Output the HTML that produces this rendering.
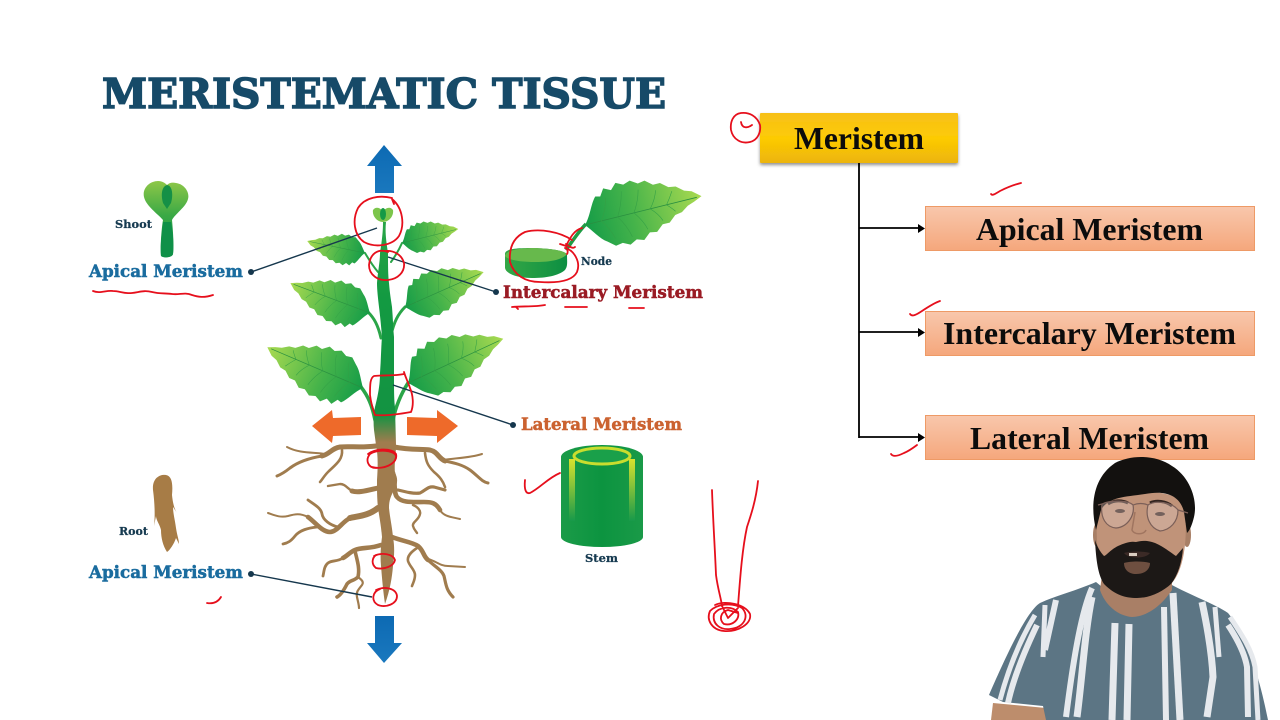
<!DOCTYPE html>
<html><head><meta charset="utf-8"><style>
html,body{margin:0;padding:0;background:#fff;width:1280px;height:720px;overflow:hidden}
svg{display:block}
text{font-family:"Liberation Serif",serif;font-weight:bold}
.slab{font-family:"DejaVu Serif","Liberation Serif",serif}
.lab{font-size:16.5px;stroke-width:.5px}
.sm{font-size:11px;fill:#163a50;stroke:#163a50;stroke-width:.25px}
.box{font-size:32px;fill:#0c0c0c;text-anchor:start}
.r{fill:none;stroke:#e60f1c;stroke-width:1.8;stroke-linecap:round;stroke-linejoin:round}
.rt{fill:none;stroke:#a07c4e;stroke-linecap:round;stroke-linejoin:round}
.st{fill:none;stroke:#e6e9ed;stroke-linecap:butt;stroke-linejoin:round}
</style></head><body>
<svg width="1280" height="720" viewBox="0 0 1280 720" xmlns="http://www.w3.org/2000/svg">
<defs>
<linearGradient id="lg" x1="0" y1="0" x2="1" y2="0"><stop offset="0" stop-color="#159c48"/><stop offset=".4" stop-color="#45b34a"/><stop offset="1" stop-color="#a9da50"/></linearGradient>
<linearGradient id="trunk" x1="0" y1="220" x2="0" y2="610" gradientUnits="userSpaceOnUse"><stop offset="0" stop-color="#2aa548"/><stop offset=".2" stop-color="#139a42"/><stop offset=".5" stop-color="#139342"/><stop offset=".57" stop-color="#a07c4e"/><stop offset="1" stop-color="#a07c4e"/></linearGradient>
<linearGradient id="blue" x1="0" y1="0" x2="0" y2="1"><stop offset="0" stop-color="#0d6ab3"/><stop offset="1" stop-color="#1a78be"/></linearGradient>
<linearGradient id="yb" x1="0" y1="0" x2="0" y2="1"><stop offset="0" stop-color="#f7c018"/><stop offset=".5" stop-color="#fdcb05"/><stop offset="1" stop-color="#ecb408"/></linearGradient>
<linearGradient id="ob" x1="0" y1="0" x2="0" y2="1"><stop offset="0" stop-color="#f8c7ac"/><stop offset="1" stop-color="#f5a77c"/></linearGradient>
<linearGradient id="shoot" x1="0" y1="0" x2="0" y2="1"><stop offset="0" stop-color="#8ec748"/><stop offset=".45" stop-color="#3aa945"/><stop offset="1" stop-color="#0e9248"/></linearGradient>
<linearGradient id="yel" x1="0" y1="0" x2="0" y2="1"><stop offset="0" stop-color="#d8e22e"/><stop offset="1" stop-color="#17994a" /></linearGradient>
<linearGradient id="cyl" x1="0" y1="0" x2="1" y2="0"><stop offset="0" stop-color="#1b9b48"/><stop offset=".5" stop-color="#0c9440"/><stop offset="1" stop-color="#1a9a48"/></linearGradient>
<linearGradient id="stump" x1="0" y1="0" x2="1" y2="0"><stop offset="0" stop-color="#34a746"/><stop offset="1" stop-color="#0c8f42"/></linearGradient>
<filter id="sh" x="-5%" y="-10%" width="110%" height="130%"><feDropShadow dx="0" dy="2" stdDeviation="1.5" flood-color="#444" flood-opacity=".6"/></filter>
<g id="leaf">
<path fill="url(#lg)" d="M0,0 C6,-6 9,-16 14,-21 L18,-20 L22,-26 L28,-23 L33,-28 L39,-25 L45,-27 L51,-23 L57,-24 L63,-19 L69,-19 L75,-14 L81,-13 L87,-8 L93,-6 L100,0 L93,3 L87,5 L81,9 L75,10 L69,15 L63,15 L57,20 L51,19 L45,24 L39,22 L33,25 L27,22 L21,23 L15,18 C9,14 5,6 0,0Z"/>
<path fill="none" stroke="#2a8f40" stroke-width=".7" d="M0,0 L96,0"/>
<path fill="none" stroke="#34a046" stroke-width=".5" d="M14,0 Q20,-8 22,-18 M28,0 Q34,-10 36,-20 M42,0 Q48,-9 50,-18 M56,0 Q62,-7 64,-14 M70,0 Q74,-5 77,-10 M14,0 Q20,8 22,17 M28,0 Q34,9 36,19 M42,0 Q48,8 50,16 M56,0 Q62,6 64,12 M70,0 Q74,4 76,7"/>
</g>
</defs>
<rect width="1280" height="720" fill="#fff"/>

<!-- Title -->
<text class="slab" x="102" y="108" font-size="41" textLength="564" lengthAdjust="spacingAndGlyphs" fill="#164a68" stroke="#164a68" stroke-width="1.5">MERISTEMATIC TISSUE</text>

<!-- Blue arrows -->
<path fill="url(#blue)" d="M384,145 L402,166 L394,166 L394,193 L375,193 L375,166 L367,166Z"/>
<path fill="url(#blue)" d="M375,616 L394,616 L394,643 L402,643 L384,663 L367,643 L375,643Z"/>
<!-- Orange arrows -->
<path fill="#ee6a2a" d="M312,426 L332,410 L333,418 L361,417 L361,435 L333,436 L332,443Z"/>
<path fill="#ee6a2a" d="M458,426 L437,410 L437,418 L407,417 L407,435 L437,436 L437,443Z"/>

<!-- Branches -->
<g fill="none" stroke="#2aa548" stroke-linecap="round">
<path d="M378,272 C372,265 368,258 365,253" stroke-width="2"/>
<path d="M391,262 C396,255 399,250 402,243" stroke-width="2"/>
<path d="M381,338 C378,325 374,318 368,312" stroke-width="3"/>
<path d="M391,335 C394,322 398,314 405,307" stroke-width="3"/>
<path d="M375,420 C372,405 368,396 361,387" stroke-width="3.5"/>
<path d="M393,420 C396,405 401,394 408,383" stroke-width="3.5"/>
</g>
<!-- Leaves -->
<use href="#leaf" transform="translate(365,253) rotate(191.7) scale(.59)"/>
<use href="#leaf" transform="translate(402,243) rotate(-14) scale(.58)"/>
<use href="#leaf" transform="translate(370,313) rotate(200.6) scale(.85)"/>
<use href="#leaf" transform="translate(405,307) rotate(-23.9) scale(.86)"/>
<use href="#leaf" transform="translate(363,388) rotate(203.1) scale(1.04)"/>
<use href="#leaf" transform="translate(408,383) rotate(-24.9) scale(1.05)"/>

<!-- Roots -->
<g class="rt">
<path stroke-width="5" d="M376,446 C360,448 350,446 340,447 C332,448 330,454 322,456"/>
<path stroke-width="3" d="M322,456 C310,458 298,462 290,468 C285,472 282,474 277,476"/>
<path stroke-width="2" d="M325,454 C315,452 300,454 287,447"/>
<path stroke-width="2.6" d="M342,450 C343,460 335,465 328,472 C324,476 322,480 320,482"/>
<path stroke-width="5" d="M394,447 C410,450 420,449 430,450 C438,452 438,458 445,461"/>
<path stroke-width="3" d="M445,461 C455,463 463,465 470,470 C478,476 482,482 488,483"/>
<path stroke-width="2" d="M443,460 C455,458 470,458 482,454"/>
<path stroke-width="2.6" d="M425,453 C426,462 428,466 434,472 C440,477 443,481 445,487"/>
<path stroke-width="5" d="M378,488 C365,491 358,493 352,491"/>
<path stroke-width="2.4" d="M352,491 C347,488 345,484 340,484 L328,486"/>
<path stroke-width="6" d="M378,508 C368,516 358,516 350,518"/>
<path stroke-width="4.6" d="M350,518 C342,522 337,532 330,532 C322,532 315,522 308,517"/>
<path stroke-width="2" d="M308,517 C300,513 295,514 288,516 C280,518 274,515 268,513"/>
<path stroke-width="2.8" d="M338,527 C330,525 323,520 322,514 C321,508 315,505 308,500"/>
<path stroke-width="2.8" d="M317,527 C308,528 300,530 295,536 C291,541 288,543 283,544"/>
<path stroke-width="4.6" d="M393,473 C396,482 393,492 397,497 C402,503 412,502 424,502 C432,502 436,503 440,510"/>
<path stroke-width="2" d="M440,510 C444,517 452,517 460,519"/>
<path stroke-width="3.2" d="M398,490 C406,492 414,494 420,493 C426,490 428,486 434,487 L445,490"/>
<path stroke-width="2.4" d="M413,505 C418,507 421,511 420,514 C419,520 412,522 413,526 C414,530 416,531 417,533"/>
<path stroke-width="4.6" d="M381,545 C370,549 362,547 355,550 C350,552 347,556 343,558"/>
<path stroke-width="2.8" d="M343,558 C337,562 332,560 328,563 C324,566 324,572 323,576"/>
<path stroke-width="3.6" d="M355,551 C357,560 360,568 358,577 C354,581 350,580 347,584 C344,590 341,595 337,597"/>
<path stroke-width="2.2" d="M358,577 C362,580 364,582 362,585 C358,590 356,592 357,597 C358,602 359,605 359,608"/>
<path stroke-width="4.6" d="M392,537 C402,541 412,542 418,546 C424,551 423,556 428,560"/>
<path stroke-width="3.2" d="M428,560 C434,566 442,570 444,576 C446,584 446,590 453,597"/>
<path stroke-width="2" d="M428,559 C436,561 440,566 448,566 L465,567"/>
<path stroke-width="2.6" d="M417,548 C411,552 407,556 408,561 C410,567 415,570 415,575 C415,580 413,583 412,586"/>
</g>
<!-- Trunk -->
<path fill="url(#trunk)" d="M383,222 L386,222 C385,232 386,240 388,253 C388,265 388,275 389,283 C390,295 391,300 392,307 C393,318 393,328 394,337 C394,350 394,362 394,373 C394,390 394,400 395,407 L396,445 C396,455 394,465 395,473 C398,478 398,484 394,490 C391,496 389,500 389,508 C390,518 392,526 393,537 C395,548 394,558 393,566 C392,578 390,590 385,604 C383,590 382,578 381,566 C380,555 381,545 382,537 C381,525 379,515 378,508 C377,498 377,490 377,480 C378,465 378,455 376,445 L374,430 C373,420 374,412 375,407 C378,395 380,385 380,373 C381,360 381,348 382,337 C381,325 380,315 379,307 C378,298 377,290 377,283 C378,270 380,262 380,253 C382,240 383,232 383,222Z"/>
<!-- Bud -->
<path fill="#7cc54b" d="M383,222 C377,222 372,216 373,210 C376,206 380,208 383,211 C386,208 390,206 393,210 C394,216 389,222 383,222Z"/>
<ellipse cx="383" cy="214" rx="3" ry="6" fill="#159a46"/>

<!-- Leader lines -->
<g stroke="#15374d" stroke-width="1.4" fill="#15374d">
<line x1="251" y1="272" x2="377" y2="228"/><circle cx="251" cy="272" r="3" stroke="none"/>
<line x1="496" y1="292" x2="388" y2="257"/><circle cx="496" cy="292" r="3" stroke="none"/>
<line x1="513" y1="425" x2="393" y2="385"/><circle cx="513" cy="425" r="3" stroke="none"/>
<line x1="251" y1="574" x2="372" y2="597"/><circle cx="251" cy="574" r="3" stroke="none"/>
</g>

<!-- Shoot icon -->
<path fill="url(#shoot)" d="M161,256 C160,245 162,225 163,220 C158,214 146,206 144,197 C142,188 150,181 158,181 C163,181 166,184 167,185 C169,183 172,182 176,183 C184,184 190,192 188,199 C186,207 175,214 172,220 C173,230 174,245 173,254 C172,258 163,258 161,256Z"/>
<path fill="#159046" d="M167,185 C173,186 173,196 171,203 L167,209 L163,203 C161,196 161,187 167,185Z"/>
<path fill="#0f9048" d="M161,256 C160,245 162,232 163,222 L171,222 C173,232 174,245 173,254 C172,258 163,258 161,256Z"/>
<!-- Root icon -->
<path fill="#a77c46" d="M153,490 C152,478 160,474 166,475 C172,476 173,484 172,495 C173,505 175,510 177,513 L173,507 C173,513 175,520 176,528 C177,535 179,540 179,544 L176,538 C174,544 170,550 167,552 C163,546 161,538 161,530 C160,525 156,520 156,516 L154,526 C155,518 155,505 153,490Z"/>

<!-- Node leaf + stump -->
<path fill="none" stroke="#1f9c44" stroke-width="3.5" d="M566,250 C572,242 578,232 586,224"/>
<use href="#leaf" transform="translate(585,225) rotate(-13.9) scale(1.2)"/>
<path fill="url(#stump)" d="M505,254 C505,248 520,248 536,248 C552,249 562,250 567,254 C567,262 568,266 565,270 C558,276 546,278 532,278 C518,278 506,274 505,268Z"/>
<path fill="#67b94c" d="M505,256 C506,250 520,248 536,248 C552,249 562,250 567,254 C562,260 550,262 536,262 C520,262 508,260 505,256Z"/>

<!-- Stem cylinder -->
<path fill="url(#cyl)" d="M561,457 A41,12 0 0 1 643,457 L643,537 A41,10 0 0 1 561,537Z"/>
<ellipse cx="602" cy="456" rx="28" ry="8" fill="#1aa04a" stroke="#c9dd2e" stroke-width="3"/>
<rect x="569" y="459" width="6" height="62" fill="url(#yel)"/>
<rect x="629" y="459" width="6" height="62" fill="url(#yel)"/>

<!-- Left labels -->
<text class="lab slab" x="89" y="277" textLength="154" lengthAdjust="spacingAndGlyphs" fill="#1a6c9f" stroke="#1a6c9f">Apical Meristem</text>
<text class="lab slab" x="89" y="578" textLength="154" lengthAdjust="spacingAndGlyphs" fill="#1a6c9f" stroke="#1a6c9f">Apical Meristem</text>
<text class="lab slab" x="503" y="298" textLength="200" lengthAdjust="spacingAndGlyphs" fill="#9a1b24" stroke="#9a1b24">Intercalary Meristem</text>
<text class="lab slab" x="521" y="430" textLength="161" lengthAdjust="spacingAndGlyphs" fill="#cb6230" stroke="#cb6230">Lateral Meristem</text>
<text class="sm slab" x="115" y="228" textLength="37" lengthAdjust="spacingAndGlyphs">Shoot</text>
<text class="sm slab" x="119" y="535" textLength="29" lengthAdjust="spacingAndGlyphs">Root</text>
<text class="sm slab" x="581" y="265" textLength="31" lengthAdjust="spacingAndGlyphs">Node</text>
<text class="sm slab" x="585" y="562" textLength="33" lengthAdjust="spacingAndGlyphs">Stem</text>

<!-- Right flowchart -->
<rect x="760" y="113" width="198" height="50" fill="url(#yb)" filter="url(#sh)" rx="1"/>
<text class="box" x="794" y="149" textLength="130" lengthAdjust="spacingAndGlyphs" font-size="31">Meristem</text>
<path d="M859,163 V438 M859,228 H918 M859,332 H918 M859,437 H918" stroke="#000" stroke-width="1.8" fill="none"/>
<path d="M918,224 L925,228.500 L918,233Z M918,328 L925,332.500 L918,337Z M918,433 L925,437.500 L918,442Z" fill="#000"/>
<g fill="url(#ob)" stroke="#ee9a66" stroke-width="1">
<rect x="925.500" y="206.500" width="329" height="44"/>
<rect x="925.500" y="311.500" width="329" height="44"/>
<rect x="925.500" y="415.500" width="329" height="44"/>
</g>
<text class="box" x="976" y="240" textLength="227" lengthAdjust="spacingAndGlyphs">Apical Meristem</text>
<text class="box" x="943" y="344" textLength="293" lengthAdjust="spacingAndGlyphs">Intercalary Meristem</text>
<text class="box" x="970" y="449" textLength="239" lengthAdjust="spacingAndGlyphs">Lateral Meristem</text>

<!-- Red annotations -->
<g class="r">
<path d="M392,198 C380,195 365,197 358,208 C352,220 354,235 364,242 C375,248 392,246 399,236 C405,225 403,208 392,199 L394,204"/>
<path d="M388,252 C378,248 370,254 369,265 C369,275 378,281 388,280 C398,279 405,272 404,263 C402,255 394,250 385,251"/>
<path d="M404,374 C395,376 382,375 374,376 C370,378 370,385 370,395 C371,403 373,410 375,415 C385,416 400,414 411,412 C414,405 413,395 410,388 C408,382 405,376 404,372"/>
<path d="M368,454 C376,448 392,448 396,454 C398,462 388,468 376,468 C368,468 365,460 370,454 C378,449 394,450 396,456 C396,464 384,470 372,467"/>
<path d="M374,556 C382,552 393,554 395,560 C394,566 384,570 376,568 C371,564 372,558 376,555"/>
<path d="M376,590 C384,586 396,588 397,596 C397,604 386,608 378,605 C371,601 372,592 380,589"/>
<path d="M572,240 C560,232 540,228 525,232 C512,238 509,250 510,262 C514,275 525,282 540,282 C555,283 572,282 577,272 C581,262 574,250 565,248"/>
<path d="M582,228 C574,230 570,238 566,246 L560,244 M566,246 C568,250 568,253 567,254 M566,244 C570,247 573,249 575,247"/>
<path d="M93,291 C100,294 106,290 113,291 C120,291 124,294 132,293 C140,292 144,290 152,292 C160,294 165,293 172,294 C180,295 184,292 192,295 C198,297 204,298 213,295"/>
<path d="M512,307 C522,306 535,307 545,305 M516,307 L518,309 M565,307 L587,307 M629,308 L644,308"/>
<path d="M207,603 C213,604 218,602 221,597"/>
<path d="M525,480 C524,490 526,494 530,493 C540,488 548,478 560,473"/>
<path d="M712,490 C713,520 715,550 716,575 C718,590 721,598 722,606"/>
<path d="M758,481 C756,500 751,515 747,527 C742,550 740,580 738,606"/>
<path d="M715,605 C725,600 745,604 750,614 C752,624 738,632 724,631 C712,630 706,620 710,611 C717,604 732,602 742,608 C750,616 744,628 730,629 C720,630 712,624 714,614 C720,606 732,606 738,612 C740,620 732,626 724,624 C719,620 720,612 728,610 L738,613 M722,606 L728,618 L738,608"/>
<path d="M741,113 C733,114 730,122 731,130 C733,140 742,144 750,142 C758,140 761,132 760,125 C757,116 749,112 741,113"/>
<path d="M741,122 C742,129 748,128 752,125"/>
<path d="M991,194 C992,196 995,194 1000,191 C1006,188 1013,185 1021,183"/>
<path d="M910,314 C912,317 916,315 922,311 C928,307 934,303 940,301"/>
<path d="M891,454 C893,457 898,456 904,453 C909,451 913,448 917,445"/>
</g>

<!-- Person -->
<g>
<path fill="#bd8d6c" d="M993,703 L1046,708 L1046,720 L991,720Z"/>
<path fill="#5c7584" d="M1096,582 C1078,590 1055,596 1040,603 C1025,612 1000,670 989,695 L1003,702 L1043,706 L1046,720 L1268,720 C1262,690 1250,640 1228,613 C1215,604 1190,595 1170,584 L1130,610Z"/>
<path fill="#a97f66" d="M1102,575 L1172,575 L1172,590 C1165,600 1152,616 1132,617 C1118,616 1105,605 1100,590Z"/>
<g class="st">
<path stroke-width="7" d="M1115,623 L1112,720 M1129,624 L1127,720"/>
<path stroke-width="6" d="M1164,607 L1166,720"/>
<path stroke-width="7" d="M1173,593 L1180,720"/>
<path stroke-width="6" d="M1092,588 C1080,615 1072,670 1066,717"/>
<path stroke-width="7" d="M1092,597 C1085,630 1082,680 1077,717"/>
<path stroke-width="6" d="M1056,600 L1045,650"/>
<path stroke-width="5" d="M1045,605 L1043,657"/>
<path stroke-width="5" d="M1035,615 C1020,640 1008,670 1000,700"/>
<path stroke-width="6" d="M1037,625 C1025,650 1013,680 1008,703"/>
<path stroke-width="7" d="M1202,602 C1208,630 1212,655 1213,677 L1207,717"/>
<path stroke-width="5" d="M1215,607 L1219,657"/>
<path stroke-width="5" d="M1230,617 C1242,635 1252,650 1255,667 L1258,720"/>
<path stroke-width="6" d="M1228,625 C1238,640 1245,655 1247,667 L1248,717"/>
</g>
<!-- ears/face -->
<ellipse cx="1097" cy="535" rx="4" ry="12" fill="#a87f66"/>
<ellipse cx="1187" cy="535" rx="4" ry="12" fill="#a87f66"/>
<path fill="#c09379" d="M1098,505 C1105,490 1175,485 1184,505 C1188,530 1186,570 1170,585 L1105,585 C1097,565 1095,530 1098,505Z"/>
<!-- beard -->
<path fill="#1c1816" d="M1095,540 C1096,560 1098,575 1104,584 C1115,595 1125,598 1137,598 C1150,598 1162,592 1171,584 C1178,575 1182,562 1183,548 L1176,556 C1170,552 1160,544 1152,542 C1145,540 1140,541 1136,542 C1130,541 1125,543 1118,546 C1110,550 1106,556 1104,556 C1100,552 1097,546 1095,540Z"/>
<path fill="#6e4f40" d="M1124,563 C1130,561 1144,561 1150,563 C1150,570 1144,574 1136,574 C1129,574 1124,570 1124,563Z"/>
<path fill="#3b2a26" d="M1124,553 C1130,551 1144,551 1150,553 C1146,559 1128,559 1124,553Z"/>
<rect x="1129" y="553" width="8" height="3" fill="#d8ccc0"/>
<!-- hair -->
<path fill="#13110f" d="M1096,530 C1090,505 1093,478 1115,463 C1130,455 1155,454 1172,466 C1190,477 1198,500 1194,517 C1192,525 1190,530 1187,533 L1184,512 C1180,495 1165,490 1145,494 C1125,497 1108,497 1101,510Z"/>
<!-- brows, eyes -->
<path fill="none" stroke="#33241f" stroke-width="3" d="M1108,504 C1114,500 1122,500 1128,503 M1150,503 C1156,500 1166,501 1172,506"/>
<ellipse cx="1120" cy="511" rx="5" ry="2" fill="#3a2723"/>
<ellipse cx="1160" cy="514" rx="5" ry="2" fill="#3a2723"/>
<!-- glasses -->
<g fill="rgba(225,205,200,.35)" stroke="#7b5f58" stroke-width="1.2">
<path d="M1102,504 C1110,500 1128,500 1133,505 C1135,515 1128,527 1116,528 C1106,527 1100,518 1102,504Z"/>
<path d="M1148,505 C1155,500 1172,502 1178,510 C1178,522 1170,530 1160,531 C1150,528 1145,517 1148,505Z"/>
</g>
<path d="M1133,505 C1138,503 1143,503 1148,505 M1178,510 L1188,513 M1102,504 L1098,505" stroke="#7b5f58" fill="none" stroke-width="1.2"/>
<path d="M1135,512 L1132,530 C1134,535 1144,535 1146,530" stroke="#a07560" fill="none" stroke-width="1.500" />
</g>
</svg>
</body></html>
